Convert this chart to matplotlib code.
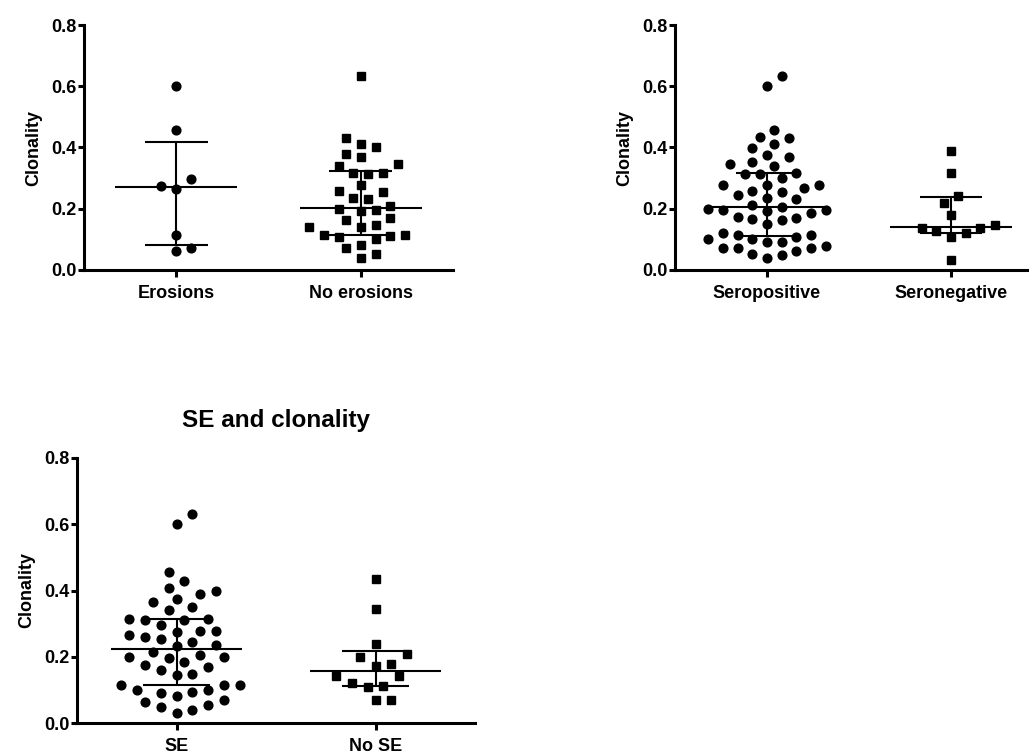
import numpy as np
import matplotlib
matplotlib.use("Agg")
import matplotlib.pyplot as plt

plt.rcParams['font.family'] = ['Liberation Sans', 'DejaVu Sans']
plt.rcParams['font.weight'] = 'bold'

# Clonality per patient, grouped three ways
erosions = [0.602, 0.457, 0.298, 0.266, 0.274, 0.114, 0.062, 0.071]
no_erosions = [0.634, 0.431, 0.411, 0.400, 0.379, 0.368, 0.346, 0.341, 0.317,
               0.313, 0.316, 0.278, 0.259, 0.255, 0.235, 0.232, 0.198, 0.194,
               0.196, 0.210, 0.163, 0.169, 0.147, 0.139, 0.139, 0.113, 0.109,
               0.100, 0.111, 0.114, 0.081, 0.071, 0.052, 0.040]

seropositive = [0.602, 0.635, 0.457, 0.434, 0.430, 0.411, 0.399, 0.368, 0.377,
                0.353, 0.345, 0.341, 0.299, 0.313, 0.313, 0.318, 0.278, 0.267,
                0.277, 0.278, 0.254, 0.259, 0.236, 0.245, 0.232, 0.212, 0.199,
                0.194, 0.196, 0.196, 0.207, 0.174, 0.167, 0.163, 0.171, 0.187,
                0.150, 0.114, 0.100, 0.120, 0.115, 0.092, 0.092, 0.100, 0.109,
                0.073, 0.071, 0.079, 0.053, 0.039, 0.048, 0.063, 0.072]
seronegative = [0.390, 0.317, 0.243, 0.218, 0.180, 0.146, 0.137, 0.138, 0.120,
                0.127, 0.109, 0.033]

se = [0.601, 0.632, 0.456, 0.430, 0.397, 0.409, 0.388, 0.375, 0.365, 0.340,
      0.350, 0.315, 0.312, 0.312, 0.315, 0.297, 0.278, 0.274, 0.260, 0.255,
      0.265, 0.278, 0.231, 0.244, 0.236, 0.204, 0.199, 0.196, 0.199, 0.214,
      0.175, 0.161, 0.146, 0.149, 0.169, 0.183, 0.115, 0.115, 0.099, 0.091,
      0.115, 0.081, 0.093, 0.099, 0.070, 0.062, 0.048, 0.030, 0.040, 0.054]
no_se = [0.435, 0.345, 0.240, 0.198, 0.209, 0.178, 0.172, 0.141, 0.141, 0.121,
         0.109, 0.113, 0.070, 0.070]

panels = [
    (["Erosions", "No erosions"], [erosions, no_erosions], None),
    (["Seropositive", "Seronegative"], [seropositive, seronegative], None),
    (["SE", "No SE"], [se, no_se], "SE and clonality"),
]
group_markers = ["o", "s"]

W, H, DPI = 1029, 754, 100
# axes frames in pixels: left, top, right, bottom
frames = [(84, 25, 453, 270), (675, 25, 1043, 270), (77, 458, 475, 723)]

fig = plt.figure(figsize=(W / DPI, H / DPI), dpi=DPI)


def swarm_offsets(values, px_per_x, px_per_y, step=0.04, min_steps=1.7):
    """Greedy beeswarm on a column grid: each point takes the nearest
    column slot that keeps it clear of the points already placed."""
    values = np.asarray(values)
    step_px = step * px_per_x
    min_px = min_steps * step_px
    order = np.argsort(values)
    placed = []
    offsets = np.zeros(len(values))
    side = 1
    for i in order:
        y = values[i] * px_per_y
        cands = [0]
        for j in range(1, 40):
            cands += [side * j, -side * j]
        for c in cands:
            x = c * step_px
            if all((x - px) ** 2 + (y - py) ** 2 >= min_px ** 2 for px, py in placed):
                break
        if c != 0:
            side = -side
        placed.append((x, y))
        offsets[i] = c * step
    return offsets


lw_axis = 2.2
lw_bar = 1.5
for (cats, groups, title), (l, t, r, b) in zip(panels, frames):
    ax = fig.add_axes([l / W, 1 - b / H, (r - l) / W, (b - t) / H])
    ax.set_xlim(-0.5, 1.5)
    ax.set_ylim(0, 0.8)
    px_per_x = (r - l) / 2.0
    px_per_y = (b - t) / 0.8
    for k, (vals, mk) in enumerate(zip(groups, group_markers)):
        vals = np.asarray(vals)
        off = swarm_offsets(vals, px_per_x, px_per_y)
        ax.plot(k + off, vals, linestyle="none", marker=mk, markersize=6.3,
                color="black", clip_on=False, zorder=3)
        q1, med, q3 = np.percentile(vals, [25, 50, 75], method="weibull")
        ax.hlines(med, k - 0.33, k + 0.33, color="black", lw=lw_bar, zorder=4)
        ax.hlines([q1, q3], k - 0.17, k + 0.17, color="black", lw=lw_bar, zorder=4)
        ax.vlines(k, q1, q3, color="black", lw=lw_bar, zorder=4)

    for side in ("top", "right"):
        ax.spines[side].set_visible(False)
    for side in ("left", "bottom"):
        ax.spines[side].set_linewidth(lw_axis)
    ax.set_yticks([0.0, 0.2, 0.4, 0.6, 0.8])
    ax.set_yticklabels(["0.0", "0.2", "0.4", "0.6", "0.8"])
    ax.set_xticks([0, 1])
    ax.set_xticklabels(cats)
    ax.tick_params(axis="y", direction="out", length=4.5, width=lw_axis,
                   labelsize=13, pad=1)
    ax.tick_params(axis="x", direction="out", length=5, width=lw_axis,
                   labelsize=13, pad=6)
    for lab in ax.get_xticklabels() + ax.get_yticklabels():
        lab.set_fontweight("bold")
    ax.set_ylabel("Clonality", fontsize=13, fontweight="bold", labelpad=6)
    if title:
        ax.set_title(title, fontsize=17.5, fontweight="bold", pad=22)

fig.savefig("out.png", dpi=DPI)
